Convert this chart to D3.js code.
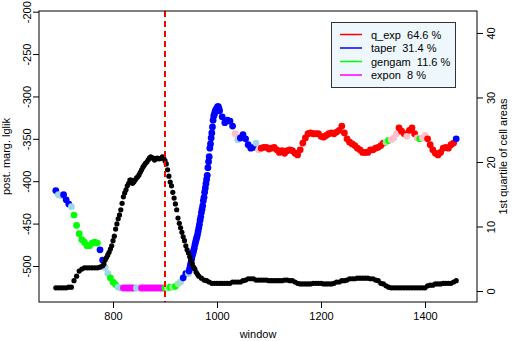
<!DOCTYPE html>
<html>
<head>
<meta charset="utf-8">
<script src="https://cdn.jsdelivr.net/npm/d3@7"></script>
<style>
  html, body { margin: 0; padding: 0; background: #fff; }
  svg { display: block; font-family: "Liberation Sans", Arial, Helvetica, sans-serif; }
</style>
</head>
<body>
<svg id="chart" width="512" height="341"></svg>
<script>
"use strict";

// posterior marginal log-likelihood per window, coloured by winning model
const lglikWindows = [
  690, 695, 700, 705, 710, 715, 720, 725, 730, 735, 740, 745, 750, 755, 760, 765, 770, 775, 780, 785,
  790, 795, 800, 805, 810, 815, 820, 825, 830, 835, 840, 845, 850, 855, 860, 865, 870, 875, 880, 885,
  890, 895, 900, 905, 910, 915, 920, 925, 930, 935, 940,
  945, 946.25, 947.5, 948.75, 950, 951.25, 952.5, 953.75, 955, 956.25, 957.5, 958.75,
  960, 961.25, 962.5, 963.75, 965, 966.25, 967.5, 968.75, 970, 971.25, 972.5, 973.75,
  975, 976.25, 977.5, 978.75, 980, 981.25, 982.5, 983.75, 985, 986.25, 987.5, 988.75,
  990, 991.25, 992.5, 993.75, 995, 996.25, 997.5, 998.75, 1000, 1001.25, 1002.5, 1003.75, 1005,
  1010, 1015, 1020, 1025, 1030, 1035, 1040, 1045, 1050, 1055, 1060, 1065, 1070, 1075, 1080, 1085,
  1090, 1095, 1100, 1105, 1110, 1115, 1120, 1125, 1130, 1135, 1140, 1145, 1150, 1155, 1160, 1165,
  1170, 1175, 1180, 1185, 1190, 1195, 1200, 1205, 1210, 1215, 1220, 1225, 1230, 1235, 1240, 1245,
  1250, 1255, 1260, 1265, 1270, 1275, 1280, 1285, 1290, 1295, 1300, 1305, 1310, 1315, 1320, 1325,
  1330, 1335, 1340, 1345, 1350, 1355, 1360, 1365, 1370, 1375, 1380, 1385, 1390, 1395, 1400, 1405,
  1410, 1415, 1420, 1425, 1430, 1435, 1440, 1445, 1450, 1455, 1460
];

const lglikValues = [
  -411, -416, -417, -416, -422, -427, -430, -440, -452, -462, -469, -472, -476, -476, -473, -472, -473, -481, -493, -502,
  -509, -514, -519, -522, -525, -526, -526, -526, -526, -526, -526, -526, -526, -526, -526, -526, -526, -526, -526, -526,
  -526, -526, -526, -526, -525, -525, -524, -521, -519, -514, -509,
  -509, -506, -503, -499, -496, -492, -488, -485, -482, -479, -475, -472,
  -469, -466, -463, -459, -455, -451, -446, -442, -437, -433, -429, -423,
  -419, -413, -408, -403, -398, -393, -384, -377, -371, -361, -356, -349,
  -343, -336, -328, -323, -321, -318, -316, -315, -314, -312, -312, -314, -317,
  -324, -331, -328, -329, -335, -344, -351, -349, -345, -350, -357, -361, -360, -355, -363, -361,
  -360, -360, -362, -361, -360, -363, -366, -364, -367, -364, -363, -364, -367, -369, -363, -355,
  -349, -344, -343, -344, -344, -344, -347, -348, -346, -344, -343, -344, -342, -340, -335, -343,
  -350, -354, -356, -358, -361, -363, -366, -366, -366, -363, -363, -361, -360, -358, -355, -354,
  -352, -351, -349, -344, -337, -341, -344, -347, -340, -337, -344, -349, -350, -349, -346, -350,
  -357, -363, -367, -369, -366, -361, -360, -361, -357, -355, -350
];

// q = q_exp, t = taper, g = gengam, e = expon; "l" suffix = lighter shade
const lglikModels = [
  "t", "tl", "tl", "t", "t", "t", "tl", "g", "g", "g", "g", "g", "g", "g", "g", "g", "g", "t", "t", "tl",
  "tl", "g", "g", "g", "tl", "tl", "e", "e", "e", "e", "e", "tl", "tl", "e", "e", "e", "e", "e", "e", "e",
  "e", "e", "g", "gl", "g", "gl", "g", "gl", "tl", "t", "t",
  "tl", "t", "t", "t", "t", "t", "t", "t", "t", "t", "t", "t",
  "t", "t", "t", "t", "t", "t", "t", "t", "t", "t", "t", "t",
  "t", "t", "t", "t", "t", "t", "t", "t", "t", "t", "t", "t",
  "t", "t", "t", "t", "t", "t", "t", "t", "t", "t", "t", "t", "t",
  "t", "t", "t", "t", "t", "ql", "tl", "t", "t", "t", "t", "t", "t", "tl", "ql", "q",
  "q", "q", "q", "q", "q", "q", "q", "q", "q", "q", "q", "q", "q", "q", "q", "q",
  "q", "q", "q", "q", "q", "q", "q", "q", "q", "q", "q", "q", "q", "q", "q", "q",
  "q", "q", "q", "q", "q", "q", "q", "q", "q", "q", "q", "q", "q", "q", "q", "gl",
  "g", "ql", "ql", "ql", "q", "q", "q", "ql", "q", "q", "q", "ql", "g", "ql", "ql", "q",
  "q", "q", "q", "q", "q", "q", "q", "q", "q", "q", "t"
];

// 1st quartile of cell areas per window
const areaWindows = [
  690, 695, 700, 705, 710, 715, 720, 725, 730, 735, 740, 745, 750, 755, 760, 765, 770, 775,
  780, 782.5, 785, 787.5, 790, 792.5, 795, 797.5, 800, 802.5, 805, 807.5, 810, 812.5, 815, 817.5,
  820, 822.5, 825, 827.5, 830, 832.5, 835, 837.5, 840, 842.5, 845, 847.5, 850, 852.5, 855, 857.5,
  860, 862.5, 865, 867.5, 870, 872.5, 875, 877.5, 880, 882.5, 885, 887.5, 890, 892.5, 895, 897.5,
  900, 902.5, 905, 907.5, 910, 912.5, 915, 917.5, 920, 922.5, 925, 927.5, 930, 932.5, 935, 937.5,
  940, 942.5, 945, 947.5, 950, 952.5, 955, 957.5, 960, 962.5, 965,
  970, 975, 980, 985, 990, 995, 1000, 1005, 1010, 1015, 1020, 1025, 1030, 1035, 1040, 1045,
  1050, 1055, 1060, 1065, 1070, 1075, 1080, 1085, 1090, 1095, 1100, 1105, 1110, 1115, 1120, 1125,
  1130, 1135, 1140, 1145, 1150, 1155, 1160, 1165, 1170, 1175, 1180, 1185, 1190, 1195, 1200, 1205,
  1210, 1215, 1220, 1225, 1230, 1235, 1240, 1245, 1250, 1255, 1260, 1265, 1270, 1275, 1280, 1285,
  1290, 1295, 1300, 1305, 1310, 1315, 1320, 1325, 1330, 1335, 1340, 1345, 1350, 1355, 1360, 1365,
  1370, 1375, 1380, 1385, 1390, 1395, 1400, 1405, 1410, 1415, 1420, 1425, 1430, 1435, 1440, 1445,
  1450, 1455, 1460
];

const areaValues = [
  0.5, 0.5, 0.5, 0.5, 0.5, 0.6, 0.6, 1.6, 2.3, 3.1, 3.4, 3.6, 3.6, 3.6, 3.6, 3.6, 3.6, 3.7,
  3.9, 4.2, 4.8, 5.2, 5.6, 6.0, 6.5, 7.0, 7.8, 8.5, 9.6, 10.4, 11.2, 11.8, 12.6, 13.6,
  14.6, 15.2, 15.7, 16.3, 16.7, 17.2, 17.2, 16.7, 16.9, 17.2, 17.5, 17.7, 18.0, 18.4, 18.8, 19.2,
  19.5, 19.8, 20.0, 20.3, 20.6, 20.8, 20.6, 20.6, 20.3, 20.5, 20.6, 20.5, 20.5, 20.6, 20.8, 20.6,
  20.2, 19.7, 18.8, 17.8, 16.9, 16.3, 15.3, 14.4, 13.5, 12.6, 11.3, 10.5, 9.8, 9.1, 8.4, 7.8,
  7.0, 6.4, 5.9, 5.3, 4.7, 4.2, 3.7, 3.4, 2.9, 2.6, 2.3,
  2.0, 1.7, 1.6, 1.4, 1.2, 1.2, 1.2, 1.2, 1.2, 1.2, 1.2, 1.2, 1.4, 1.4, 1.4, 1.4,
  1.6, 1.7, 1.9, 1.9, 1.9, 1.7, 1.7, 1.7, 1.7, 1.7, 1.6, 1.6, 1.6, 1.6, 1.6, 1.6,
  1.7, 1.7, 1.6, 1.6, 1.4, 1.2, 1.1, 1.1, 1.1, 1.1, 1.1, 1.2, 1.2, 1.2, 1.2, 1.1,
  1.1, 1.1, 1.1, 1.2, 1.4, 1.4, 1.6, 1.6, 1.7, 1.9, 1.9, 1.9, 2.0, 2.0, 2.0, 2.0,
  2.0, 1.9, 1.9, 1.7, 1.6, 1.2, 1.1, 0.8, 0.6, 0.5, 0.5, 0.5, 0.5, 0.5, 0.5, 0.5,
  0.5, 0.5, 0.5, 0.5, 0.5, 0.5, 0.5, 0.8, 0.9, 0.9, 1.1, 1.1, 1.1, 1.2, 1.2, 1.2,
  1.2, 1.4, 1.6
];

const legendLabels = ["q_exp  64.6 %", "taper  31.4 %", "gengam  11.6 %", "expon  8 %"];
const legendColors = ["#ff0000", "#0000ff", "#00ff00", "#ff00ff"];

const modelColors = {
  q: "#ff0000", t: "#0000ff", g: "#00ff00", e: "#ff00ff",
  ql: "#ffc0cb", tl: "#9fd6e8", gl: "#90ee90"
};

const changeWindow = 900;
const lglikTicks = [-500, -450, -400, -350, -300, -250, -200];
const areaTicks = [0, 10, 20, 30, 40];
const windowTicks = [800, 1000, 1200, 1400];

const svg = d3.select("#chart");
const box = { left: 39, right: 477, top: 11, bottom: 302 };

const x = d3.scaleLinear().domain([657.7, 1500]).range([box.left, box.right]);
const yL = d3.scaleLinear().domain([-542.5, -199.2]).range([box.bottom, box.top]);
const yR = d3.scaleLinear().domain([-1.7, 43.4]).range([box.bottom, box.top]);

const lglik = lglikWindows.map((w, i) => ({ w: w, v: lglikValues[i], m: lglikModels[i] }));
const areas = areaWindows.map((w, i) => ({ w: w, v: areaValues[i] }));

// coloured lglik points first, then the black area points on top
svg.append("g").selectAll("circle").data(lglik).join("circle")
  .attr("cx", (d) => x(d.w))
  .attr("cy", (d) => yL(d.v))
  .attr("r", 3.4)
  .attr("fill", (d) => modelColors[d.m]);

svg.append("g").selectAll("circle").data(areas).join("circle")
  .attr("cx", (d) => x(d.w))
  .attr("cy", (d) => yR(d.v))
  .attr("r", 2.6)
  .attr("fill", "#000");

svg.append("line")
  .attr("x1", x(changeWindow)).attr("x2", x(changeWindow))
  .attr("y1", box.top).attr("y2", box.bottom)
  .attr("stroke", "#ff0000")
  .attr("stroke-width", 2)
  .attr("stroke-dasharray", "6,4");

// axes
const styleAxis = (g) => {
  g.select(".domain").remove();
  g.selectAll(".tick line").attr("stroke", "#000");
  g.selectAll(".tick text").attr("fill", "#000").attr("font-size", 11).attr("font-family", null);
};

svg.append("g")
  .attr("transform", `translate(0,${box.bottom})`)
  .call(d3.axisBottom(x).tickValues(windowTicks).tickSize(6).tickFormat(d3.format("d")))
  .call(styleAxis)
  .call((g) => g.selectAll(".tick text").attr("y", 18).attr("dy", 0));

svg.append("g")
  .attr("transform", `translate(${box.left},0)`)
  .call(d3.axisLeft(yL).tickValues(lglikTicks).tickSize(6).tickFormat((d) => String(d)))
  .call(styleAxis)
  .call((g) => g.selectAll(".tick text")
    .attr("x", 0).attr("dy", 0)
    .attr("text-anchor", "middle")
    .attr("transform", "translate(-8,0) rotate(-90)"));

svg.append("g")
  .attr("transform", `translate(${box.right},0)`)
  .call(d3.axisRight(yR).tickValues(areaTicks).tickSize(6))
  .call(styleAxis)
  .call((g) => g.selectAll(".tick text")
    .attr("x", 0).attr("dy", 0)
    .attr("text-anchor", "middle")
    .attr("transform", "translate(18,0) rotate(-90)"));

svg.append("rect")
  .attr("x", box.left).attr("y", box.top)
  .attr("width", box.right - box.left).attr("height", box.bottom - box.top)
  .attr("fill", "none").attr("stroke", "#000").attr("stroke-width", 1);

// axis titles
const midY = (box.top + box.bottom) / 2;
svg.append("text")
  .attr("x", (box.left + box.right) / 2).attr("y", 338)
  .attr("text-anchor", "middle").attr("font-size", 11)
  .text("window");
svg.append("text")
  .attr("transform", `translate(10,${midY}) rotate(-90)`)
  .attr("text-anchor", "middle").attr("font-size", 11)
  .text("post. marg. lglik");
svg.append("text")
  .attr("transform", `translate(507,${midY}) rotate(-90)`)
  .attr("text-anchor", "middle").attr("font-size", 11)
  .text("1st quartile of cell areas");

// legend
const legend = svg.append("g");
legend.append("rect")
  .attr("x", 331.5).attr("y", 22.5).attr("width", 124).attr("height", 65)
  .attr("fill", "#eef7fc").attr("stroke", "#333").attr("stroke-width", 1);

legendLabels.forEach((label, i) => {
  let cy = 34.5 + i * 13.5;
  legend.append("line")
    .attr("x1", 340).attr("x2", 362).attr("y1", cy).attr("y2", cy)
    .attr("stroke", legendColors[i]).attr("stroke-width", 1.5);
  legend.append("text")
    .attr("x", 371).attr("y", cy + 4)
    .attr("font-size", 11)
    .style("white-space", "pre")
    .text(label);
});
</script>
</body>
</html>
